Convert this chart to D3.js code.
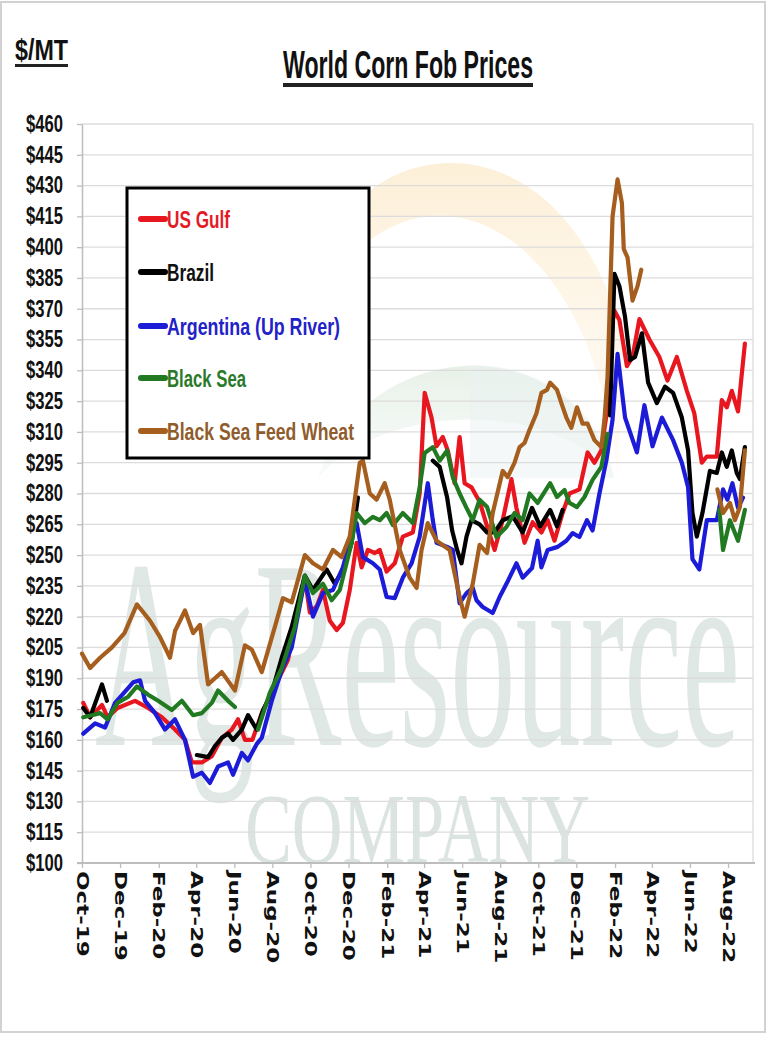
<!DOCTYPE html>
<html><head><meta charset="utf-8">
<script src="https://cdn.jsdelivr.net/npm/d3@7"></script>
<style>body{margin:0;background:#fff}svg{display:block}</style>
</head><body><script>
// ---------- DATA ----------
const yTickValues = [100,115,130,145,160,175,190,205,220,235,250,265,280,295,310,325,340,355,370,385,400,415,430,445,460];
const xTickDates = ["2019-10-01","2019-12-01","2020-02-01","2020-04-01","2020-06-01","2020-08-01","2020-10-01","2020-12-01","2021-02-01","2021-04-01","2021-06-01","2021-08-01","2021-10-01","2021-12-01","2022-02-01","2022-04-01","2022-06-01","2022-08-01"];
const seriesNames = ["US Gulf","Brazil","Argentina (Up River)","Black Sea","Black Sea Feed Wheat"];

const usGulf = [["2019-10-03",178],["2019-10-14",171],["2019-11-02",177],["2019-11-11",171],["2019-11-27",175.5],["2019-12-25",179],["2020-01-15",175.5],["2020-02-06",171],["2020-02-27",165],["2020-03-14",160],["2020-03-25",149],["2020-04-10",149],["2020-04-26",152],["2020-05-12",161],["2020-05-28",165],["2020-06-07",170],["2020-06-18",160],["2020-06-30",160],["2020-07-15",173],["2020-08-05",186],["2020-08-26",199],["2020-09-22",239],["2020-09-30",222],["2020-10-11",225],["2020-10-21",233],["2020-11-01",218],["2020-11-12",213.5],["2020-11-22",217],["2020-12-03",233],["2020-12-14",256],["2020-12-22",244],["2021-01-01",252.5],["2021-01-12",251],["2021-01-20",252.5],["2021-01-31",242],["2021-02-13",246],["2021-02-26",259],["2021-03-14",261],["2021-03-25",280],["2021-04-02",329],["2021-04-13",317],["2021-04-21",303],["2021-05-01",307.5],["2021-05-09",301],["2021-05-20",285],["2021-05-28",307.5],["2021-06-05",285],["2021-06-16",283],["2021-06-29",276],["2021-07-11",264],["2021-07-23",252.5],["2021-08-05",267],["2021-08-19",287],["2021-08-27",273],["2021-09-09",256],["2021-09-22",266],["2021-10-06",261],["2021-10-16",267],["2021-10-27",257],["2021-11-09",270.5],["2021-11-20",280],["2021-12-06",282],["2021-12-19",300],["2021-12-30",295],["2022-01-10",301],["2022-01-20",322],["2022-01-28",364],["2022-01-31",369],["2022-02-08",364.5],["2022-02-20",342],["2022-03-01",346.5],["2022-03-12",365],["2022-03-28",355],["2022-04-13",346.5],["2022-04-26",335],["2022-05-11",346.5],["2022-05-27",330],["2022-06-08",319],["2022-06-20",295],["2022-06-28",298],["2022-07-14",298],["2022-07-22",325.5],["2022-07-30",322],["2022-08-07",330],["2022-08-17",320],["2022-08-28",353]];

const brazil = [["2019-10-03",175.5],["2019-10-14",171],["2019-11-02",187],["2019-11-10",179],["2019-12-01",null],["2020-04-02",152.6],["2020-04-20",151.6],["2020-05-01",157],["2020-05-12",161],["2020-05-22",163],["2020-05-30",160],["2020-06-13",165],["2020-06-23",172],["2020-07-07",165],["2020-07-17",174.5],["2020-07-31",183],["2020-08-16",200],["2020-09-01",215],["2020-09-22",240],["2020-10-05",233],["2020-10-27",243],["2020-11-09",236],["2020-11-22",243],["2020-12-06",256],["2020-12-16",278],["2021-02-01",null],["2021-04-15",296],["2021-04-26",293],["2021-05-08",278],["2021-05-16",262],["2021-05-24",252.5],["2021-05-31",246],["2021-06-08",259],["2021-06-16",267],["2021-06-29",265],["2021-07-11",261],["2021-07-23",261],["2021-08-05",267],["2021-08-21",269],["2021-09-06",261],["2021-09-21",273],["2021-10-04",264],["2021-10-20",272],["2021-10-31",264],["2021-11-09",272],["2021-12-15",null],["2022-01-24",318],["2022-01-31",387],["2022-02-08",381],["2022-02-17",366],["2022-02-25",345],["2022-03-05",346.5],["2022-03-16",358],["2022-03-26",334],["2022-04-09",324],["2022-04-22",332],["2022-05-05",329],["2022-05-19",317],["2022-05-29",301],["2022-06-05",270.5],["2022-06-12",259],["2022-06-21",270.5],["2022-07-03",291],["2022-07-14",290],["2022-07-22",300],["2022-07-30",293],["2022-08-07",301],["2022-08-15",290],["2022-08-20",287],["2022-08-28",302.6]];

const argentina = [["2019-10-03",163],["2019-10-22",168],["2019-11-07",166],["2019-11-23",178],["2019-12-22",188],["2020-01-02",189],["2020-01-10",179],["2020-01-26",173],["2020-02-11",165],["2020-02-27",170],["2020-03-14",160],["2020-03-27",142],["2020-04-10",144],["2020-04-23",139],["2020-05-06",147],["2020-05-22",149],["2020-05-30",143],["2020-06-13",153.6],["2020-06-23",150],["2020-07-07",158],["2020-07-15",161],["2020-07-31",179],["2020-08-16",194],["2020-09-01",205],["2020-09-22",238],["2020-10-05",220],["2020-10-21",231.5],["2020-11-06",233],["2020-11-22",244],["2020-12-08",262],["2020-12-14",265.6],["2020-12-24",249],["2021-01-09",246],["2021-01-20",243],["2021-01-31",229.6],["2021-02-13",229],["2021-02-26",239],["2021-03-12",246],["2021-03-25",259],["2021-04-07",285],["2021-04-15",267],["2021-04-21",256],["2021-05-08",254],["2021-05-17",252.5],["2021-05-28",226.6],["2021-06-08",231.5],["2021-06-18",234],["2021-06-24",228],["2021-07-04",224.7],["2021-07-20",221.8],["2021-07-31",229.6],["2021-08-11",236],["2021-08-27",246],["2021-09-06",239],["2021-09-21",243.7],["2021-09-30",257],["2021-10-06",244],["2021-10-16",252.5],["2021-11-01",254],["2021-11-15",257],["2021-11-25",260.7],["2021-12-06",258.8],["2021-12-18",267],["2021-12-27",262],["2022-01-07",280],["2022-01-18",296],["2022-01-28",316],["2022-02-05",348],["2022-02-17",317],["2022-03-08",300],["2022-03-20",323],["2022-04-02",303],["2022-04-17",317],["2022-05-05",306],["2022-05-19",295],["2022-05-29",283],["2022-06-05",248],["2022-06-16",243],["2022-06-28",267],["2022-07-14",267],["2022-07-24",282],["2022-07-31",277],["2022-08-08",285],["2022-08-17",273],["2022-08-25",278]];

const blackSea = [["2019-10-03",171],["2019-10-17",172],["2019-10-30",173],["2019-11-11",170],["2019-11-27",178],["2019-12-14",181],["2019-12-28",186],["2020-01-15",182],["2020-01-31",179],["2020-02-22",174.5],["2020-03-09",179],["2020-03-27",172],["2020-04-10",173],["2020-04-26",178],["2020-05-06",184],["2020-05-22",179],["2020-06-02",176],["2020-06-20",null],["2020-07-09",165],["2020-07-28",183],["2020-08-16",195],["2020-09-06",215],["2020-09-22",240],["2020-10-05",231.5],["2020-10-21",236],["2020-11-04",228],["2020-11-17",233],["2020-12-06",256],["2020-12-14",270.5],["2020-12-27",265.6],["2021-01-09",268.6],["2021-01-20",267],["2021-01-31",270.5],["2021-02-10",264.6],["2021-02-26",270.5],["2021-03-14",265.6],["2021-03-25",283],["2021-04-02",299.7],["2021-04-15",302.6],["2021-04-26",296],["2021-05-08",301],["2021-05-17",288],["2021-05-28",280],["2021-06-08",273],["2021-06-18",267],["2021-06-29",277],["2021-07-11",273.4],["2021-07-26",258.8],["2021-08-11",263.7],["2021-08-24",270.5],["2021-09-06",267],["2021-09-17",280],["2021-09-30",275.4],["2021-10-20",285],["2021-10-31",278.3],["2021-11-12",281.7],["2021-11-20",275.4],["2021-12-02",273.4],["2021-12-14",278.3],["2021-12-27",286.6],["2022-01-10",293],["2022-01-20",309],["2022-04-01",null],["2022-07-18",272],["2022-07-24",252.5],["2022-08-04",267],["2022-08-17",257],["2022-08-28",272]];

const feedWheat = [["2019-10-01",202],["2019-10-14",195],["2019-10-30",200],["2019-11-18",205],["2019-12-08",212],["2019-12-28",226],["2020-01-18",218],["2020-02-03",210],["2020-02-19",200],["2020-02-27",213],["2020-03-14",223],["2020-03-27",212],["2020-04-07",216],["2020-04-20",187],["2020-05-01",190],["2020-05-12",193],["2020-06-02",184],["2020-06-18",206],["2020-06-29",204],["2020-07-15",193],["2020-08-05",215],["2020-08-18",229],["2020-09-01",227],["2020-09-22",250],["2020-10-05",246],["2020-10-21",243],["2020-11-06",252.5],["2020-11-20",249],["2020-12-03",259],["2020-12-19",295],["2020-12-24",296],["2021-01-04",280],["2021-01-15",277],["2021-01-28",285],["2021-02-05",277],["2021-02-21",252.5],["2021-03-09",239],["2021-03-20",234],["2021-03-28",252.5],["2021-04-07",265.6],["2021-04-21",257],["2021-05-12",252.5],["2021-05-28",229.6],["2021-06-05",220],["2021-06-18",236],["2021-06-29",255],["2021-07-11",251],["2021-07-20",270.5],["2021-08-05",291],["2021-08-13",288],["2021-08-24",295],["2021-09-01",302.6],["2021-09-09",304.6],["2021-09-17",311],["2021-09-28",319],["2021-10-06",329],["2021-10-15",330.5],["2021-10-20",334],["2021-10-31",330.5],["2021-11-07",324],["2021-11-15",317],["2021-11-23",312],["2021-12-02",322],["2021-12-11",314],["2021-12-19",314],["2021-12-30",306],["2022-01-10",302.6],["2022-01-15",316],["2022-01-20",337],["2022-01-28",415],["2022-02-05",433],["2022-02-12",421.5],["2022-02-15",399],["2022-02-21",395],["2022-03-01",374],["2022-03-09",381],["2022-03-15",389],["2022-05-01",null],["2022-07-15",282],["2022-07-24",270.5],["2022-08-04",275.4],["2022-08-12",267],["2022-08-20",273.4],["2022-08-28",301]];

// ---------- STYLE / LAYOUT ----------
const seriesColors = ["#e8161f","#000000","#1c1cd8","#217a21","#a65e1e"];
const legendTextColors = ["#e21c26","#111111","#2222c8","#2a7a2a","#8f5c2c"];
const W = 768, H = 1038;
const plot = {left:82, right:753, top:124, bottom:863};
const parse = d3.timeParse("%Y-%m-%d");

const svg = d3.select("body").append("svg").attr("width",W).attr("height",H);
svg.append("rect").attr("width",W).attr("height",H).attr("fill","#fff");
svg.append("rect").attr("x",1).attr("y",2).attr("width",764).attr("height",1030)
  .attr("fill","none").attr("stroke","#d2d2d2").attr("stroke-width",2);

const x = d3.scaleTime().domain([parse("2019-10-01"), parse("2022-09-10")]).range([plot.left, plot.right]);
const y = d3.scaleLinear().domain([100,460]).range([plot.bottom, plot.top]);

// watermark logo (decorative, beneath gridlines)
const defs = svg.append("defs");
const g1 = defs.append("linearGradient").attr("id","sun").attr("x1",0).attr("y1",0).attr("x2",0).attr("y2",1);
g1.append("stop").attr("offset","0%").attr("stop-color","#fbe3b8").attr("stop-opacity",0.55);
g1.append("stop").attr("offset","100%").attr("stop-color","#fdf0dc").attr("stop-opacity",0.25);
const g2 = defs.append("linearGradient").attr("id","hill").attr("x1",0).attr("y1",0).attr("x2",0).attr("y2",1);
g2.append("stop").attr("offset","0%").attr("stop-color","#dbeadc").attr("stop-opacity",0.65);
g2.append("stop").attr("offset","100%").attr("stop-color","#eaf3ee").attr("stop-opacity",0.35);
const wm = svg.append("g");
wm.append("path").attr("d","M330 250 C360 140 560 100 624 340 L618 475 C590 220 430 160 345 265 Z").attr("fill","url(#sun)");
wm.append("path").attr("d","M318 478 C365 335 575 322 614 478 C560 400 385 400 318 478 Z").attr("fill","url(#hill)");
wm.append("path").attr("d","M470 365 C540 365 600 405 614 478 L470 478 Z").attr("fill","#eaf2f1").attr("opacity",0.5);
wm.append("text").text("AgResource").attr("x",95).attr("y",745)
  .attr("font-family","'Liberation Serif','Times New Roman',serif").attr("font-size",270)
  .attr("textLength",645).attr("lengthAdjust","spacingAndGlyphs")
  .attr("fill","#cddbd6").attr("opacity",0.62);
wm.append("text").text("COMPANY").attr("x",245).attr("y",862)
  .attr("font-family","'Liberation Serif','Times New Roman',serif").attr("font-size",100)
  .attr("textLength",345).attr("lengthAdjust","spacingAndGlyphs")
  .attr("fill","#d6e0dc").attr("opacity",0.85);

// gridlines
svg.append("g").selectAll("line").data(yTickValues).join("line")
  .attr("x1",plot.left).attr("x2",plot.right).attr("y1",d=>y(d)).attr("y2",d=>y(d))
  .attr("stroke","#dcdcdc").attr("stroke-width",1.3);
svg.append("line").attr("x1",plot.right).attr("x2",plot.right).attr("y1",plot.top).attr("y2",plot.bottom)
  .attr("stroke","#dcdcdc").attr("stroke-width",1.3);

// axes
const yAxis = d3.axisLeft(y).tickValues(yTickValues).tickFormat(d=>"$"+d).tickSize(5).tickSizeOuter(0);
const gy = svg.append("g").attr("transform",`translate(${plot.left},0)`).call(yAxis);
gy.select(".domain").attr("stroke","#bdbdbd").attr("stroke-width",1.5);
gy.selectAll(".tick line").attr("stroke","#bdbdbd").attr("stroke-width",1.3);
gy.selectAll(".tick text").attr("x",-19).attr("fill","#111")
  .attr("font-family","'Liberation Sans',Arial,sans-serif").attr("font-weight","bold").attr("font-size",23)
  .attr("textLength",37).attr("lengthAdjust","spacingAndGlyphs");

const xAxis = d3.axisBottom(x).tickValues(xTickDates.map(parse)).tickFormat(d3.timeFormat("%b-%y")).tickSize(5).tickSizeOuter(0);
const gx = svg.append("g").attr("transform",`translate(0,${plot.bottom})`).call(xAxis);
gx.select(".domain").attr("stroke","#bdbdbd").attr("stroke-width",2).attr("d",`M${plot.left-5},0H${plot.right+2}`);
gx.selectAll(".tick line").attr("stroke","#bdbdbd").attr("stroke-width",1.3);
gx.selectAll(".tick text").attr("x",0).attr("y",0).attr("dy","0.36em").attr("text-anchor","start")
  .attr("transform","translate(0,8) scale(0.7,1) rotate(90)")
  .attr("fill","#111").attr("font-family","'DejaVu Sans',Verdana,sans-serif").attr("font-weight","bold").attr("font-size",23);

// lines
const line = d3.line().defined(d=>d[1]!=null).x(d=>x(parse(d[0]))).y(d=>y(d[1]));
const allSeries = [usGulf, brazil, argentina, blackSea, feedWheat];
svg.append("g").selectAll("path").data(allSeries).join("path")
  .attr("d",line).attr("fill","none")
  .attr("stroke",(d,i)=>seriesColors[i]).attr("stroke-width",4.2)
  .attr("stroke-linejoin","round").attr("stroke-linecap","round");

// legend
const leg = svg.append("g");
leg.append("rect").attr("x",127).attr("y",188).attr("width",242).attr("height",270)
  .attr("fill","#fff").attr("stroke","#000").attr("stroke-width",3);
const legY = [219,272,326,378,431];
const legW = [63,47,173,79,187];
seriesNames.forEach((n,i)=>{
  leg.append("line").attr("x1",141).attr("x2",165).attr("y1",legY[i]).attr("y2",legY[i])
    .attr("stroke",seriesColors[i]).attr("stroke-width",6).attr("stroke-linecap","round");
  leg.append("text").text(n).attr("x",167).attr("y",legY[i]).attr("dy","0.36em")
    .attr("font-family","'Liberation Sans',Arial,sans-serif").attr("font-weight","bold").attr("font-size",24)
    .attr("textLength",legW[i]).attr("lengthAdjust","spacingAndGlyphs").attr("fill",legendTextColors[i]);
});

// titles
svg.append("text").text("World Corn Fob Prices").attr("x",283).attr("y",78)
  .attr("font-family","'Liberation Sans',Arial,sans-serif").attr("font-weight","bold").attr("font-size",38)
  .attr("textLength",250).attr("lengthAdjust","spacingAndGlyphs").attr("fill","#111");
svg.append("rect").attr("x",283).attr("y",83).attr("width",250).attr("height",4).attr("fill","#222");
svg.append("text").text("$/MT").attr("x",15).attr("y",60)
  .attr("font-family","'Liberation Sans',Arial,sans-serif").attr("font-weight","bold").attr("font-size",29)
  .attr("textLength",53).attr("lengthAdjust","spacingAndGlyphs").attr("fill","#111");
svg.append("rect").attr("x",15).attr("y",64).attr("width",53).attr("height",3).attr("fill","#222");
</script></body></html>
